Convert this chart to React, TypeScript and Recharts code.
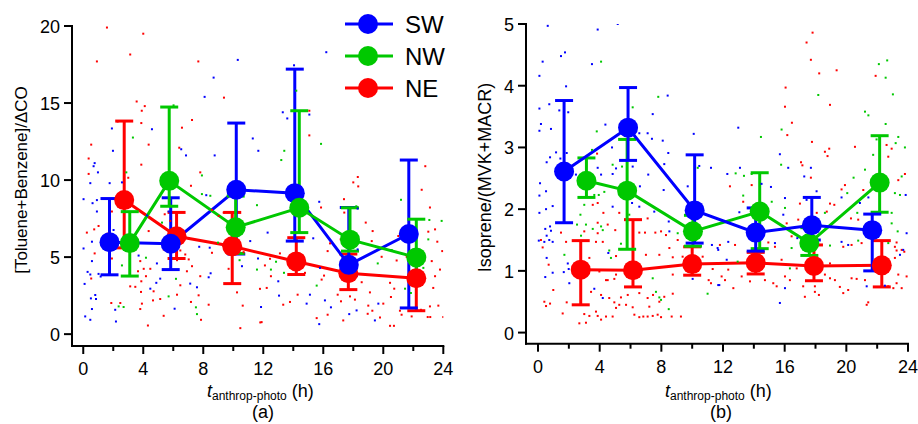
import React from 'react';
import { ComposedChart, Line, Scatter, XAxis, YAxis, ErrorBar, Legend } from 'recharts';

// ---------- Panel (a): [Toluene+Benzene]/ΔCO ----------
const a_SW_x = [1.75, 5.83, 10.2, 14.1, 17.7, 21.7];
const a_SW_mean = [5.97, 5.87, 9.37, 9.15, 4.5, 6.5];
const a_SW_lo = [3.85, 4.19, 5.2, 6.04, 3.8, 1.7];
const a_SW_hi = [8.8, 8.85, 13.7, 17.2, 8.22, 11.3];

const a_NW_x = [3.1, 5.73, 10.16, 14.4, 17.78, 22.2];
const a_NW_mean = [5.91, 9.95, 6.93, 8.2, 6.13, 4.98];
const a_NW_lo = [3.77, 8.3, 5.24, 6.59, 5.39, 3.65];
const a_NW_hi = [7.95, 14.74, 8.96, 14.5, 8.2, 7.46];

const a_NE_x = [2.73, 6.22, 9.93, 14.2, 17.67, 22.2];
const a_NE_mean = [8.7, 6.35, 5.7, 4.72, 3.95, 3.63];
const a_NE_lo = [5.6, 4.91, 3.28, 3.87, 2.89, 1.52];
const a_NE_hi = [13.83, 7.9, 7.9, 6.26, 5.2, 4.8];

const a_dots_NE = [
  [1.58,19.9],[4.0,19.5],[3.13,18.15],[0.91,17.7],[7.67,17.7],[9.38,15.35],[3.56,15.1],[4.1,14.8],[3.9,14.5],[2.29,13.8],[3.87,13.7],[7.25,13.9],[6.58,13.4],[4.36,12.3],[0.53,12.3],[6.4,12.1],[0.36,11.4],[3.87,11.0],[0.36,10.4],[7.8,10.5],[3.0,10.15],
  [15.07,14.5],[15.07,12.9],[22.8,10.9],[18.3,10.2],[18.0,9.85],
  [7.18,9.63],[0.24,6.59],[0.73,6.8],[1.02,7.02],[1.62,6.52],[1.91,7.96],[0.76,5.24],[0.53,3.61],[1.91,4.91],[2.87,8.43],[4.36,6.69],[3.8,4.74],[4.03,4.24],[4.47,4.24],[3.87,3.43],[4.18,3.76],[3.65,4.08],[3.13,3.1],[3.47,3.07],[3.85,2.74],[4.69,2.78],[5.13,2.28],[4.65,2.19],[3.91,1.98],[1.87,2.02],[2.47,2.02],[3.8,1.63],[5.36,1.19],[4.31,0.56],[5.43,7.78],[5.8,7.35],[5.36,5.5],[6.25,4.8],[6.47,5.43],[6.8,5.17],[7.03,4.85],[7.25,4.41],[6.91,4.08],[7.8,3.76],[7.69,2.52],[6.25,2.56],[6.47,3.17],[7.18,2.09],[7.85,0.93],[8.36,1.91],[8.58,8.06],[9.03,7.67],[9.36,7.89],[8.58,5.28],[9.69,4.24],[10.25,2.71],[10.63,1.85],[10.47,0.39],[11.8,0.76],[10.69,5.32],
  [18.33,9.59],[22.56,9.37],[17.38,8.76],[23.11,8.22],[15.85,8.22],[17.4,7.89],[18.83,7.24],[19.29,6.69],[23.0,6.65],[23.45,6.8],[23.6,6.0],[23.93,5.39],[16.29,5.39],[16.45,5.89],[17.16,6.15],[19.23,6.04],[21.0,6.37],[19.89,5.02],[20.89,4.78],[21.56,5.02],[13.11,5.24],[12.45,4.89],[12.11,4.46],[12.51,3.76],[11.78,2.94],[12.23,3.0],[13.33,1.91],[13.78,2.09],[11.89,0.78],[14.29,2.56],[14.78,3.98],[15.89,3.54],[16.05,3.8],[15.56,1.04],[16.29,1.26],[16.96,2.56],[17.18,2.13],[17.33,0.89],[17.78,2.45],[18.11,2.24],[18.56,3.37],[19.11,2.71],[19.0,1.85],[19.27,1.52],[18.96,1.32],[19.78,1.08],[20.0,1.98],[20.45,3.33],[20.73,2.95],[20.51,2.41],[20.45,0.54],[20.71,0.54],[21.11,1.52],[21.22,1.26],[21.89,1.15],[22.51,1.58],[22.96,1.11],[23.13,1.11],[23.11,1.8],[23.67,1.85],[23.45,3.76],[23.33,3.0],[23.23,4.74],[23.78,4.19],[24.0,1.11]
];

const a_dots_SW = [
  [10.3,17.8],[8.69,16.65],[8.09,15.4],[1.91,13.35],[4.58,13.3],[1.98,11.9],[11.3,12.7],[11.67,11.9],[6.53,12.0],[6.85,11.6],[8.76,11.6],[0.76,11.1],[0.69,10.9],[0.98,10.5],[0.47,9.8],[1.76,9.8],
  [16.2,18.3],[14.05,17.45],[13.3,14.4],[15.07,14.25],[13.6,14.0],
  [2.58,9.85],[0.02,8.76],[0.62,8.5],[0.91,8.7],[0.91,7.96],[2.8,8.5],[4.25,7.7],[5.69,7.96],[2.02,6.76],[0.58,6.0],[0.02,5.56],[0.58,4.74],[0.29,4.04],[0.47,3.87],[1.02,3.91],[1.16,3.74],[0.09,3.26],[0.51,2.32],[0.8,2.54],[0.85,2.28],[0.58,1.63],[0.13,1.15],[0.47,0.93],[2.13,1.58],[2.18,0.82],[3.69,5.1],[4.91,4.59],[5.13,3.6],[4.47,2.95],[4.87,3.33],[6.09,1.65],[7.13,3.28],[7.58,3.04],[7.73,5.67],[8.43,5.61],[8.36,3.69],[8.49,3.95],[9.65,9.13],[10.58,4.41],[11.13,6.04],[11.65,4.91],[11.85,1.76],[8.2,9.02],
  [15.73,8.59],[12.29,6.59],[15.33,6.22],[15.78,4.3],[13.0,3.43],[13.05,2.5],[15.11,2.56],[14.89,1.98],[16.11,2.19],[16.51,1.74],[18.22,1.54],[17.73,1.3],[15.73,0.65],[19.44,0.89],[19.67,1.98],[18.29,8.15],[18.29,5.5]
];

const a_dots_NW = [
  [6.02,14.85],[3.31,12.76],[2.87,10.5],[7.91,10.3],[14.2,15.8],[15.85,12.35],[13.4,11.9],[13.2,11.3],
  [7.91,9.09],[8.47,8.98],[11.58,8.37],[5.25,7.24],[4.18,4.96],[2.58,4.46],[5.69,2.45],[6.18,3.59],[2.69,1.76],[2.36,1.8],[7.58,1.3],[7.51,1.74],[10.42,4.8],[8.98,5.94],[11.58,4.19],
  [21.18,8.72],[23.07,7.41],[23.0,6.15],[12.85,4.7],[12.51,4.19],[13.38,3.98],[15.56,3.15],[19.63,4.59],[22.67,4.3],[21.84,2.67],[21.45,2.95],[20.56,5.46],[23.89,7.35],[18.2,8.3]
];

// ---------- Panel (b): Isoprene/(MVK+MACR) ----------
const b_SW_x = [1.69, 5.84, 10.16, 14.12, 17.76, 21.68];
const b_SW_mean = [2.61, 3.32, 1.98, 1.62, 1.74, 1.66];
const b_SW_lo = [1.78, 2.79, 1.45, 1.32, 1.5, 1.0];
const b_SW_hi = [3.76, 3.97, 2.88, 2.02, 2.19, 1.92];

const b_NW_x = [3.14, 5.78, 10.05, 14.38, 17.6, 22.16];
const b_NW_mean = [2.46, 2.3, 1.64, 1.96, 1.45, 2.43];
const b_NW_lo = [2.19, 1.35, 1.4, 1.36, 1.25, 1.95];
const b_NW_hi = [2.83, 3.13, 1.9, 2.59, 1.7, 3.19];

const b_NE_x = [2.77, 6.16, 10.0, 14.12, 17.9, 22.3];
const b_NE_mean = [1.02, 1.01, 1.11, 1.13, 1.08, 1.09];
const b_NE_lo = [0.45, 0.74, 0.93, 0.95, 0.84, 0.74];
const b_NE_hi = [1.49, 1.83, 1.39, 1.3, 1.42, 1.49];

const b_dots_SW = [
  [0.63,4.97],[5.17,5.0],[3.87,4.91],[1.75,4.54],[1.49,4.48],[0.3,4.39],[3.5,4.35],[0.09,4.16],[1.82,3.99],[8.41,3.84],[0.09,3.63],[0.73,3.7],[1.38,3.6],[1.96,3.57],[7.44,3.54],[0.19,3.38],[0.09,3.27],[0.84,3.3],[4.37,3.37],[6.57,3.23],[7.11,3.23],[7.39,3.14],[8.09,3.11],[10.1,3.22],[4.8,3.0],[8.45,2.91],[1.17,2.92],[0.78,2.84],[0.56,2.76],[1.45,2.82],[1.86,2.91],[3.87,2.67],[5.06,2.66],[6.14,2.69],[4.09,2.56],[4.84,2.57],[7.15,2.56],[8.19,2.73],[10.46,2.7],[11.22,2.67],[2.46,2.56],[0.13,2.42],
  [12.99,3.32],[15.69,2.89],[13.1,2.67],[16.23,2.67],[17.7,2.67],[12.28,2.57],[17.27,2.53],
  [0.09,2.22],[0.52,2.29],[0.09,1.94],[0.52,2.0],[0.95,2.05],[0.78,1.72],[0.47,1.68],[0.84,1.65],[0.56,1.57],[0.73,1.5],[0.05,1.49],[0.41,1.47],[0.95,1.47],[0.56,1.21],[1.93,1.12],[0.95,0.97],[1.67,0.98],[0.47,0.9],[2.03,0.8],[1.99,1.03],[3.65,0.71],[4.2,0.56],[4.56,1.29],[4.84,2.04],[6.1,2.1],[6.57,2.04],[7.54,1.96],[8.15,2.31],[8.48,1.8],[8.52,1.64],[9.71,2.37],[6.61,2.37],[11.28,1.42],[11.65,1.37],[11.76,0.77],[10.03,0.87],
  [15.11,2.36],[14.5,2.41],[16.02,2.18],[18.07,2.29],[17.42,2.15],[19.69,2.19],[20.88,2.1],[21.43,2.19],[13.06,1.95],[15.91,1.91],[12.34,1.47],[15.37,1.45],[16.82,1.53],[19.69,1.47],[20.12,1.42],[11.69,1.34],[12.24,1.18],[23.91,1.61],[23.69,1.34],[23.48,1.26],[11.69,0.77],[16.02,0.72],[15.69,0.48],[21.32,0.75],[22.5,0.76],[23.85,2.23]
];

const b_dots_NW = [
  [4.09,4.39],[7.8,3.82],[6.14,3.65],[3.81,3.26],[3.5,2.96],[4.84,2.72],[5.45,2.69],[10.36,2.67],
  [22.11,4.35],[22.65,4.41],[22.55,4.13],[23.02,3.86],[18.18,3.85],[21.21,3.58],[21.43,3.52],[22.55,3.38],[15.8,3.29],[14.46,3.17],[23.37,3.17],[23.2,3.07],[23.8,3.0],[21.96,3.13],[21.74,2.88],[15.77,2.72],[12.82,2.58],[13.36,2.54],[13.86,2.57],[21.21,2.64],[20.47,2.51],[23.59,2.53],
  [3.65,2.23],[3.94,2.23],[4.3,2.28],[3.0,2.07],[2.75,1.91],[3.11,1.75],[2.53,1.75],[3.55,1.68],[4.09,1.72],[4.2,1.66],[2.79,1.57],[4.62,1.33],[5.38,1.44],[4.73,1.21],[5.92,1.91],[7.44,0.88],[7.65,0.66],[7.87,0.57],[7.98,0.53],[8.48,0.38],[11.0,0.63],[9.06,1.61],[1.71,1.26],
  [13.31,2.22],[15.16,2.12],[16.02,2.02],[18.61,1.94],[20.06,2.26],[20.71,1.94],[22.94,1.94],[22.94,1.77],[23.33,1.64],[22.72,1.45],[18.94,1.41],[20.77,1.49],[16.34,1.04],[12.95,1.15],[16.45,1.37],[23.15,2.26],[23.48,2.23]
];

const b_dots_NE = [
  [3.83,2.9],
  [17.81,4.86],[17.42,4.7],[17.7,4.42],[18.24,4.2],[19.37,4.25],[16.06,3.97],[21.9,4.16],[18.94,3.69],[16.02,3.66],[16.47,3.4],[16.17,3.2],[17.77,3.09],[18.89,2.98],[18.61,2.93],[18.78,2.86],[20.56,3.01],[22.61,3.04],[22.94,2.98],[22.72,2.85],[17.06,2.76],[17.15,2.71],[17.7,2.51],[23.8,2.57],[23.37,2.47],
  [0.19,1.5],[0.3,1.38],[1.49,1.62],[1.82,1.47],[0.69,1.1],[0.99,0.69],[0.41,0.5],[0.52,0.43],[0.78,0.47],[1.6,0.31],[1.86,0.49],[2.68,0.15],[3.11,0.16],[3.0,0.3],[3.33,0.27],[3.76,0.34],[3.87,0.27],[4.09,0.21],[4.41,0.26],[4.84,0.26],[5.06,0.4],[4.95,0.49],[5.27,0.45],[5.71,0.45],[5.82,0.61],[5.38,0.57],[4.62,0.56],[6.14,0.41],[6.25,0.29],[6.57,0.25],[6.83,0.26],[7.11,0.26],[7.44,0.27],[7.76,0.29],[7.98,0.25],[7.22,0.42],[7.11,0.56],[7.46,0.61],[7.87,0.5],[8.67,0.26],[9.27,0.26],[8.19,0.58],[6.57,0.64],[8.74,0.63],[4.09,0.61],[3.44,0.66],[4.52,0.85],[5.06,0.94],[4.95,0.87],[5.82,1.07],[3.98,0.99],[3.33,1.21],[3.0,1.64],[3.87,1.61],[3.76,1.47],[4.2,1.47],[3.87,2.1],[4.24,1.94],[3.87,1.78],[4.52,1.75],[5.27,1.94],[5.01,1.66],[6.57,1.62],[6.94,1.62],[7.11,1.85],[7.61,1.62],[7.98,1.64],[8.52,1.37],[7.0,1.26],[7.87,1.26],[8.74,1.22],[5.06,1.24],[4.41,0.85],[8.74,0.94],[10.68,1.23],[11.07,0.85],[11.22,0.8],[11.33,1.03],[11.65,1.12],[9.38,1.23],[9.06,1.5],[8.3,1.58],[3.55,2.07],
  [12.45,2.37],[13.86,2.39],[19.91,2.39],[19.69,2.32],[21.1,2.31],[13.31,2.12],[16.99,2.09],[18.94,2.09],[19.22,2.07],[18.08,1.94],[18.73,1.96],[16.13,1.77],[20.3,1.85],[20.77,1.83],[23.26,1.46],[23.15,1.39],[23.59,1.34],[23.76,1.31],[23.26,1.33],[11.8,1.42],[12.78,1.42],[13.64,1.15],[12.34,1.02],[11.91,0.91],[12.13,0.85],[12.67,0.72],[13.21,0.91],[13.75,0.83],[14.72,0.85],[15.26,0.8],[15.48,0.75],[16.02,0.91],[16.34,0.85],[16.78,1.04],[17.2,0.75],[17.31,0.58],[17.96,0.66],[18.22,0.61],[17.96,0.75],[18.61,0.94],[18.94,0.88],[19.26,0.85],[19.58,0.74],[19.8,0.64],[20.12,0.69],[20.34,0.88],[20.67,0.87],[21.21,0.85],[21.32,0.45],[21.42,0.49],[22.72,0.75],[23.05,0.72],[23.26,0.8],[23.59,0.72],[23.91,0.91],[23.37,0.94],[23.15,1.21],[19.8,1.39],[20.34,1.42],[20.99,1.45],[15.8,1.18],[18.94,1.12],[15.37,1.39],[14.94,1.46],[16.45,1.56],[16.88,1.83],[17.75,1.72]
];

const xTicks = [0, 2, 4, 6, 8, 10, 12, 14, 16, 18, 20, 22, 24];
const aYTicks = [0, 5, 10, 15, 20];
const bYTicks = [0, 1, 2, 3, 4, 5];
const seriesNames = ['SW', 'NW', 'NE'];

// ---------- styling ----------
const FONT = "'Liberation Sans', Arial, Helvetica, sans-serif";
const COLORS: Record<string, string> = { SW: '#0000ff', NW: '#00c800', NE: '#ff0000' };

const buildSeries = (xs: number[], m: number[], lo: number[], hi: number[]) =>
  xs.map((x, i) => ({ x, y: m[i], err: [m[i] - lo[i], hi[i] - m[i]] }));
const buildDots = (arr: number[][]) => arr.map(([x, y]) => ({ x, y }));

const XTick = (props: any) => {
  const { x, y, payload } = props;
  const v = payload.value;
  const major = v % 4 === 0;
  return (
    <g>
      <line x1={x} x2={x} y1={y} y2={y + (major ? 8 : 5)} stroke="#000" strokeWidth={2} />
      {major && (
        <text x={x} y={y + 29} textAnchor="middle" fontSize={18} fontFamily={FONT} fill="#000">
          {v}
        </text>
      )}
    </g>
  );
};

const YTick = (props: any) => {
  const { x, y, payload } = props;
  return (
    <g>
      <line x1={x - 8} x2={x} y1={y} y2={y} stroke="#000" strokeWidth={2} />
      <text x={x - 12} y={y + 7} textAnchor="end" fontSize={18} fontFamily={FONT} fill="#000">
        {payload.value}
      </text>
    </g>
  );
};

const dotShape = (color: string) => (props: any) => (
  <rect x={props.cx - 1} y={props.cy - 1} width={2} height={2} fill={color} />
);

const LegendBox = () => (
  <svg width={120} height={100} style={{ display: 'block' }}>
    {seriesNames.map((n, i) => (
      <g key={n}>
        <line x1={0} x2={48} y1={16 + 32 * i} y2={16 + 32 * i} stroke={COLORS[n]} strokeWidth={3} />
        <circle cx={23} cy={16 + 32 * i} r={10} fill={COLORS[n]} />
        <text x={60} y={16 + 32 * i + 9} fontSize={24} fontFamily={FONT} fill="#000">
          {n}
        </text>
      </g>
    ))}
  </svg>
);

const renderSeries = (name: string, data: any[]) => (
  <Line
    key={name}
    data={data}
    dataKey="y"
    name={name}
    type="linear"
    stroke={COLORS[name]}
    strokeWidth={3}
    dot={{ r: 10, fill: COLORS[name], stroke: COLORS[name], strokeWidth: 0 }}
    activeDot={false}
    isAnimationActive={false}
  >
    <ErrorBar dataKey="err" direction="y" width={9} strokeWidth={3} stroke={COLORS[name]} />
  </Line>
);

const axisLine = { stroke: '#000', strokeWidth: 2, strokeLinecap: 'square' as const };

export default function App() {
  const aSeries: Record<string, any[]> = {
    SW: buildSeries(a_SW_x, a_SW_mean, a_SW_lo, a_SW_hi),
    NW: buildSeries(a_NW_x, a_NW_mean, a_NW_lo, a_NW_hi),
    NE: buildSeries(a_NE_x, a_NE_mean, a_NE_lo, a_NE_hi),
  };
  const bSeries: Record<string, any[]> = {
    SW: buildSeries(b_SW_x, b_SW_mean, b_SW_lo, b_SW_hi),
    NW: buildSeries(b_NW_x, b_NW_mean, b_NW_lo, b_NW_hi),
    NE: buildSeries(b_NE_x, b_NE_mean, b_NE_lo, b_NE_hi),
  };

  return (
    <div style={{ position: 'absolute', left: 0, top: 0, width: 918, height: 424, background: '#fff', fontFamily: FONT }}>
      <div style={{ position: 'absolute', left: 0, top: 0 }}>
        <ComposedChart width={459} height={424} margin={{ top: 26, right: 15.7, bottom: 48, left: 22 }}>
          <XAxis
            dataKey="x"
            type="number"
            domain={[-0.75, 24]}
            ticks={xTicks}
            interval={0}
            allowDataOverflow
            height={30}
            tickSize={0}
            tickMargin={0}
            tickLine={false}
            axisLine={axisLine}
            tick={<XTick />}
          />
          <YAxis
            dataKey="y"
            type="number"
            domain={[-0.77, 20]}
            ticks={aYTicks}
            interval={0}
            allowDataOverflow
            width={50}
            tickSize={0}
            tickMargin={0}
            tickLine={false}
            axisLine={axisLine}
            tick={<YTick />}
          />
          <Scatter data={buildDots(a_dots_NE)} dataKey="y" shape={dotShape(COLORS.NE)} isAnimationActive={false} legendType="none" />
          <Scatter data={buildDots(a_dots_SW)} dataKey="y" shape={dotShape(COLORS.SW)} isAnimationActive={false} legendType="none" />
          <Scatter data={buildDots(a_dots_NW)} dataKey="y" shape={dotShape(COLORS.NW)} isAnimationActive={false} legendType="none" />
          {renderSeries('NE', aSeries.NE)}
          {renderSeries('SW', aSeries.SW)}
          {renderSeries('NW', aSeries.NW)}
          <Legend
            layout="vertical"
            align="center"
            verticalAlign="middle"
            content={<LegendBox />}
            wrapperStyle={{ position: 'absolute', left: 345, top: 8, width: 120, height: 100 }}
          />
        </ComposedChart>
      </div>
      <div style={{ position: 'absolute', left: 459, top: 0 }}>
        <ComposedChart width={459} height={424} margin={{ top: 24, right: 10, bottom: 50.3, left: 17 }}>
          <XAxis
            dataKey="x"
            type="number"
            domain={[-0.78, 24]}
            ticks={xTicks}
            interval={0}
            allowDataOverflow
            height={30}
            tickSize={0}
            tickMargin={0}
            tickLine={false}
            axisLine={axisLine}
            tick={<XTick />}
          />
          <YAxis
            dataKey="y"
            type="number"
            domain={[-0.18, 5]}
            ticks={bYTicks}
            interval={0}
            allowDataOverflow
            width={50}
            tickSize={0}
            tickMargin={0}
            tickLine={false}
            axisLine={axisLine}
            tick={<YTick />}
          />
          <Scatter data={buildDots(b_dots_NE)} dataKey="y" shape={dotShape(COLORS.NE)} isAnimationActive={false} legendType="none" />
          <Scatter data={buildDots(b_dots_SW)} dataKey="y" shape={dotShape(COLORS.SW)} isAnimationActive={false} legendType="none" />
          <Scatter data={buildDots(b_dots_NW)} dataKey="y" shape={dotShape(COLORS.NW)} isAnimationActive={false} legendType="none" />
          {renderSeries('NE', bSeries.NE)}
          {renderSeries('NW', bSeries.NW)}
          {renderSeries('SW', bSeries.SW)}
        </ComposedChart>
      </div>
      <svg width={918} height={424} style={{ position: 'absolute', left: 0, top: 0, pointerEvents: 'none' }}>
        <text transform="translate(21,180) rotate(-90)" textAnchor="middle" dominantBaseline="central" fontSize={17} fontFamily={FONT} fill="#000">
          [Toluene+Benzene]/ΔCO
        </text>
        <text transform="translate(485,177.5) rotate(-90)" textAnchor="middle" dominantBaseline="central" fontSize={18} fontFamily={FONT} fill="#000">
          Isoprene/(MVK+MACR)
        </text>
        <text x={207} y={397} fontSize={18} fontFamily={FONT} fill="#000">
          <tspan fontStyle="italic">t</tspan>
          <tspan fontSize={12} dy={3}>anthrop-photo</tspan>
          <tspan dy={-3} dx={5}>(h)</tspan>
        </text>
        <text x={263} y={418} textAnchor="middle" fontSize={18} fontFamily={FONT} fill="#000">(a)</text>
        <text x={665} y={397} fontSize={18} fontFamily={FONT} fill="#000">
          <tspan fontStyle="italic">t</tspan>
          <tspan fontSize={12} dy={3}>anthrop-photo</tspan>
          <tspan dy={-3} dx={5}>(h)</tspan>
        </text>
        <text x={721} y={418} textAnchor="middle" fontSize={18} fontFamily={FONT} fill="#000">(b)</text>
      </svg>
    </div>
  );
}
